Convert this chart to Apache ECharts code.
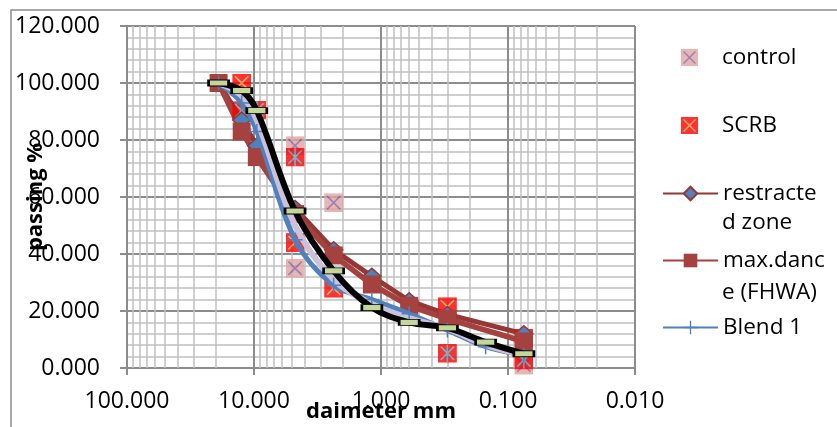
<!DOCTYPE html>
<html><head><meta charset="utf-8">
<script src="https://cdn.jsdelivr.net/npm/echarts@6/dist/echarts.min.js"></script>
<style>html,body{margin:0;padding:0;background:#fff}#c{width:837px;height:427px}</style>
</head><body><div id="c"></div>
<script>
// ---- data ----
const sieveSizes = [19, 12.5, 9.5, 4.75, 2.36, 1.18, 0.6, 0.3, 0.15, 0.075];
const blackCurve = [100, 97.3, 90.3, 55.1, 34.1, 21.2, 16.0, 14.1, 9.1, 5.0];
const lavenderCurve = [100, 95.5, 87, 50, 31, 22.5, 17.5, 13.8, 8.1, 4.6];
const blend1 = [100, 93, 83, 45, 29, 24, 19, 13.3, 7.5, 4.5];
const restrictedSizes = [19, 12.5, 9.5, 4.75, 2.36, 1.18, 0.6, 0.3, 0.075];
const restrictedZone = [100, 87, 78, 56, 41.5, 32.2, 23.6, 18.8, 12];
const maxDensitySizes = [19, 12.5, 9.5, 4.75, 2.36, 1.18, 0.6, 0.3, 0.075];
const maxDensity = [100, 83, 74, 54, 39.5, 29.3, 21.8, 17.2, 9.3];
const controlSizes = [4.75, 2.36, 4.75, 0.075];
const controlVals = [78, 58, 35, 1];
const scrbSizes = [12.5, 4.75, 2.36, 0.3, 0.075];
const scrbVals = [100, 44, 28, 21.5, 10.5];
const extraSizes = [12.5, 9.5, 4.75, 0.3, 0.075];
const extraVals = [90.3, 90.5, 74, 5.2, 2.8];
const decades = [10, 1, 0.1, 0.01];
const minorMultipliers = [2, 3, 4, 5, 6, 7, 8, 9];
const legendNames = ['control', 'SCRB', 'restracted zone', 'max.dance (FHWA)', 'Blend 1'];

const pair = (xs, ys) => xs.map((x, i) => [x, ys[i]]);
const svgUrl = s => 'image://data:image/svg+xml;charset=utf-8,' + encodeURIComponent(s);
const markerSvg = (fill, stroke, star) =>
  "<svg xmlns='http://www.w3.org/2000/svg' width='20' height='20' viewBox='0 0 20 20'>" +
  "<rect width='20' height='20' fill='" + fill + "'/>" +
  "<path d='M3,3L17,17M17,3L3,17" + (star ? "M10,1V19" : "") + "' stroke='" + stroke + "' stroke-width='1.7' fill='none'/></svg>";
const controlIcon = svgUrl(markerSvg('#e0a3a2', '#7f63a1'));
const scrbIcon = svgUrl(markerSvg('#ff0000', '#f79646'));
const extraIcon = svgUrl(markerSvg('#ff0000', '#4bacc6', true));

const minorLines = [];
decades.forEach(d => minorMultipliers.forEach(m => minorLines.push({ xAxis: +(d * m).toPrecision(6) })));

const FONT = 'Open Sans';
const legendBase = (name, y, label, icon) => ({
  data: [icon ? { name, icon } : { name }],
  left: 662, top: y - 11, padding: 0, orient: 'vertical',
  itemWidth: 55, itemHeight: 17, itemGap: 0,
  formatter: () => label,
  textStyle: { fontFamily: FONT, fontSize: 22.5, color: '#000' },
  selectedMode: false
});

const chart = echarts.init(document.getElementById('c'));
chart.setOption({
  animation: false,
  backgroundColor: '#fff',
  grid: { left: 127, right: 202, top: 26, bottom: 59, containLabel: false, outerBoundsMode: 'none' },
  graphic: [
    { type: 'rect', shape: { x: 11, y: 10, width: 840, height: 430 }, style: { fill: 'none', stroke: '#8c8c8c', lineWidth: 1.5 }, z: -1 },
    { type: 'text', x: 722, y: 223, style: { text: 'd zone', font: '22.5px "Open Sans"', fill: '#000', textVerticalAlign: 'middle' } },
    { type: 'text', x: 722, y: 293, style: { text: 'e (FHWA)', font: '22.5px "Open Sans"', fill: '#000', textVerticalAlign: 'middle' } }
  ],
  legend: [
    legendBase('control', 57, 'control', controlIcon),
    legendBase('SCRB', 125, 'SCRB', scrbIcon),
    legendBase('restracted zone', 193, 'restracte'),
    legendBase('max.dance (FHWA)', 260, 'max.danc'),
    legendBase('Blend 1', 327, 'Blend 1')
  ],
  xAxis: {
    type: 'log', logBase: 10, min: 0.01, max: 100, inverse: true,
    name: 'daimeter mm', nameLocation: 'middle', nameGap: 33, nameMoveOverlap: false,
    nameTextStyle: { fontFamily: FONT, fontWeight: 'bold', fontSize: 22, color: '#000' },
    axisLine: { onZero: false, lineStyle: { color: '#8c8c8c', width: 2 } },
    axisTick: { show: true, length: 7, lineStyle: { color: '#8c8c8c', width: 2 } },
    axisLabel: { margin: 22, fontFamily: FONT, fontSize: 23, color: '#000', formatter: v => (+v).toFixed(3) },
    splitLine: { show: true, lineStyle: { color: '#8c8c8c', width: 2 } }
  },
  yAxis: {
    type: 'value', min: 0, max: 120, interval: 20,
    name: 'passing %', nameLocation: 'middle', nameGap: 80, nameMoveOverlap: false,
    nameTextStyle: { fontFamily: FONT, fontWeight: 'bold', fontSize: 22, color: '#000' },
    axisLine: { show: true, onZero: false, lineStyle: { color: '#8c8c8c', width: 2 } },
    axisTick: { show: true, length: 7, lineStyle: { color: '#8c8c8c', width: 2 } },
    axisLabel: { margin: 27, fontFamily: FONT, fontSize: 23, color: '#000', formatter: v => v.toFixed(3) },
    splitLine: { show: true, lineStyle: { color: '#8c8c8c', width: 2 } },
    minorTick: { show: false, splitNumber: 5 },
    minorSplitLine: { show: true, lineStyle: { color: '#c0c0c0', width: 1.5 } }
  },
  series: [
    {
      name: 'control', type: 'scatter', data: pair(controlSizes, controlVals),
      symbol: controlIcon, symbolSize: 19, z: 3,
      markLine: {
        silent: true, symbol: 'none', z: 1, animation: false,
        label: { show: false },
        lineStyle: { type: 'solid', color: '#c0c0c0', width: 1.5 },
        data: minorLines
      }
    },
    { name: 'SCRB', type: 'scatter', data: pair(scrbSizes, scrbVals), symbol: scrbIcon, symbolSize: 19, z: 3 },
    { name: 'SCRB 2', type: 'scatter', data: pair(extraSizes, extraVals), symbol: extraIcon, symbolSize: 19, z: 3 },
    {
      name: 'restracted zone', type: 'line', data: pair(restrictedSizes, restrictedZone), z: 3,
      symbol: 'diamond', symbolSize: [18, 16], showAllSymbol: true,
      lineStyle: { color: '#953735', width: 5 },
      itemStyle: { color: '#4f81bd', borderColor: '#953735', borderWidth: 1.5 }
    },
    {
      name: 'max.dance (FHWA)', type: 'line', data: pair(maxDensitySizes, maxDensity), z: 3,
      symbol: 'rect', symbolSize: 18, showAllSymbol: true,
      lineStyle: { color: '#a5413e', width: 5.5 },
      itemStyle: { color: '#a5413e' }
    },
    {
      name: 'Blend 1', type: 'line', data: pair(sieveSizes, blend1), z: 4, smooth: 0.35,
      symbol: 'path://M9,0h2v20h-2zM0,9h20v2h-20z', symbolSize: 15, showAllSymbol: true,
      lineStyle: { color: '#4f81bd', width: 5 },
      itemStyle: { color: '#4f81bd' }
    },
    {
      name: 'Blend 3', type: 'line', data: pair(sieveSizes, lavenderCurve), z: 4, smooth: 0.35,
      symbol: 'none', lineStyle: { color: '#ccc1da', width: 6 }
    },
    {
      name: 'Blend 2', type: 'line', data: pair(sieveSizes, blackCurve), z: 5, smooth: 0.35,
      symbol: 'rect', symbolSize: [20, 6], showAllSymbol: true,
      lineStyle: { color: '#000', width: 6 },
      itemStyle: { color: '#c4d79b', borderColor: '#000', borderWidth: 1.5 }
    }
  ]
});
</script></body></html>
